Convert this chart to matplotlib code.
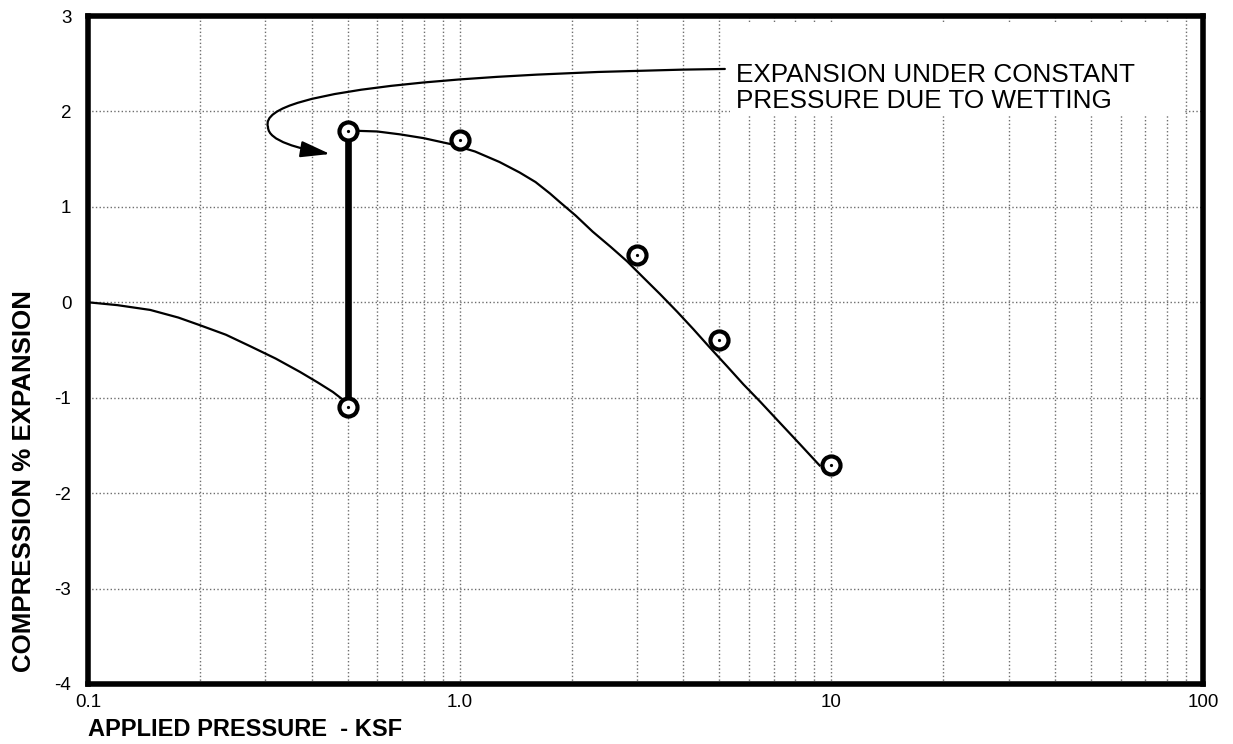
import numpy as np
import matplotlib.pyplot as plt
from matplotlib.path import Path
from matplotlib.patches import FancyArrowPatch, Rectangle
from matplotlib.ticker import FixedLocator, NullFormatter

plt.rcParams['font.family'] = ['Liberation Sans', 'DejaVu Sans']

# test points (pressure ksf, % expansion)
test_p = [0.5, 1.0, 3.0, 5.0, 10.0]
test_e = [1.8, 1.7, 0.5, -0.4, -1.7]
dry_p = [0.5]
dry_e = [-1.1]

# loading curve before wetting
load_p = [0.1, 0.12, 0.147, 0.175, 0.2, 0.235, 0.273, 0.32, 0.372, 0.415, 0.456, 0.5]
load_e = [0.0, -0.03, -0.08, -0.16, -0.24, -0.34, -0.46, -0.59, -0.73, -0.84, -0.94, -1.06]

# curve after wetting
wet_p = [0.5, 0.6, 0.69, 0.8, 0.94, 1.1, 1.28, 1.45, 1.6, 1.75, 1.86, 2.05, 2.28,
         2.55, 2.82, 3.1, 3.46, 3.85, 4.25, 4.7, 5.24, 5.8, 6.43, 7.3, 8.2, 9.3]
wet_e = [1.80, 1.79, 1.76, 1.72, 1.66, 1.58, 1.47, 1.36, 1.26, 1.14, 1.05, 0.91, 0.74,
         0.58, 0.43, 0.27, 0.086, -0.10, -0.28, -0.47, -0.67, -0.86, -1.04, -1.27, -1.48, -1.71]

xticks = [0.1, 1.0, 10, 100]
xticklabels = ['0.1', '1.0', '10', '100']
yticks = [-4, -3, -2, -1, 0, 1, 2, 3]

fig = plt.figure(figsize=(12.33, 7.44), dpi=100)
ax = fig.add_axes([88 / 1233, 1 - 684 / 744, 1115 / 1233, 668 / 744])

ax.set_xscale('log')
ax.set_xlim(0.1, 100)
ax.set_ylim(-4, 3)

ax.set_xticks(xticks)
ax.set_xticklabels(xticklabels)
minor = [m * d for d in [0.1, 1, 10] for m in range(2, 10)]
ax.xaxis.set_minor_locator(FixedLocator(minor))
ax.xaxis.set_minor_formatter(NullFormatter())
ax.set_yticks(yticks)
ax.set_yticklabels([str(v) for v in yticks])
ax.tick_params(which='both', length=0, labelsize=13.5)
ax.tick_params(axis='y', pad=12)
ax.tick_params(axis='x', pad=7)

ax.grid(True, which='both', axis='x', color='#6e6e6e', ls=':', lw=1.0)
ax.grid(True, which='major', axis='y', color='#6e6e6e', ls=':', lw=1.0)
ax.set_axisbelow(True)
for s in ax.spines.values():
    s.set_linewidth(4)

# white box behind annotation
ax.add_patch(Rectangle((0.576, 0.852), 0.408, 0.136, transform=ax.transAxes,
                       fc='white', ec='none', zorder=1.5))

ax.plot(load_p, load_e, color='black', lw=1.6, zorder=3)
ax.plot(wet_p, wet_e, color='black', lw=1.6, zorder=3)
ax.plot([dry_p[0], test_p[0]], [dry_e[0], test_e[0]], color='black', lw=4.8,
        solid_capstyle='butt', zorder=3)

allp = test_p + dry_p
alle = test_e + dry_e
ax.plot(allp, alle, ls='none', marker='o', ms=13, mew=3.0, mfc='white',
        mec='black', zorder=4)
ax.plot(allp, alle, ls='none', marker='o', ms=2.3, mew=0, mfc='black', zorder=5)

# leader arrow
verts = [(5.17, 2.445), (1.284, 2.413), (0.2813, 2.256), (0.305, 1.837),
         (0.305, 1.690), (0.372, 1.606), (0.448, 1.554)]
codes = [Path.MOVETO, Path.CURVE4, Path.CURVE4, Path.CURVE4,
         Path.CURVE4, Path.CURVE4, Path.CURVE4]
arrow = FancyArrowPatch(path=Path(verts, codes),
                        arrowstyle='-|>,head_length=1.8,head_width=0.5',
                        mutation_scale=10, color='black', lw=1.6, zorder=3)
ax.add_patch(arrow)

ax.text(0.581, 0.901, 'EXPANSION UNDER CONSTANT', transform=ax.transAxes,
        fontsize=18.8, va='baseline', ha='left', zorder=6)
ax.text(0.581, 0.862, 'PRESSURE DUE TO WETTING', transform=ax.transAxes,
        fontsize=18.8, va='baseline', ha='left', zorder=6)

fig.text(88 / 1233, 1 - 730 / 744, 'APPLIED PRESSURE  - KSF', fontsize=17,
         fontweight='bold', ha='left', va='center')
fig.text(24 / 1233, 1 - 481 / 744, 'COMPRESSION % EXPANSION', fontsize=18.6,
         fontweight='bold', ha='center', va='center', rotation=90)

fig.savefig('out.png', dpi=100)
